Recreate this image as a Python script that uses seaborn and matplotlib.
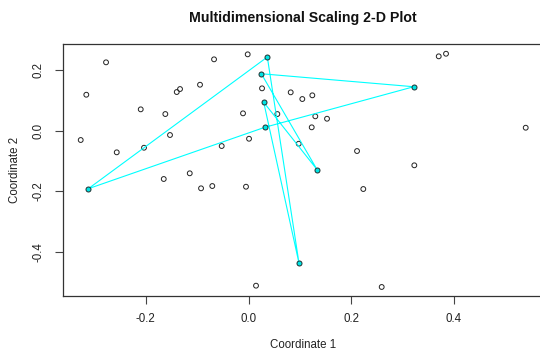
import numpy as np
import pandas as pd
import matplotlib
matplotlib.use("Agg")
import matplotlib.pyplot as plt
import seaborn as sns

# --- data ---
other_x = [-0.2773, -0.3157, -0.3266, -0.2565, -0.2034, -0.2098, -0.1619, -0.1528,
           -0.1397, -0.1333, -0.0944, -0.0671, -0.0016, -0.0107, 0.0010, -0.0522,
           0.0263, 0.0821, 0.0561, 0.1047, 0.1242, 0.1300, 0.1528, 0.1230,
           0.0977, 0.2112, 0.3227, 0.3702, 0.3844, 0.5395, -0.1650, -0.1144,
           -0.0924, -0.0705, -0.0049, 0.0146, 0.2234, 0.2592]
other_y = [0.2256, 0.1186, -0.0310, -0.0717, -0.0565, 0.0703, 0.0548, -0.0145,
           0.1275, 0.1374, 0.1516, 0.2355, 0.2520, 0.0571, -0.0268, -0.0509,
           0.1397, 0.1265, 0.0548, 0.1044, 0.1166, 0.0472, 0.0393, 0.0109,
           -0.0433, -0.0674, -0.1146, 0.2454, 0.2540, 0.0096, -0.1598, -0.1410,
           -0.1906, -0.1830, -0.1853, -0.5122, -0.1929, -0.5165]

# highlighted points, in path order (closed polygon)
hl_x = [-0.3118, 0.0315, 0.3215, 0.0249, 0.1333, 0.0296, 0.0983, 0.0366]
hl_y = [-0.1919, 0.0109, 0.1450, 0.1879, -0.1285, 0.0935, -0.4382, 0.2431]

title = "Multidimensional Scaling 2-D Plot"
xlabel = "Coordinate 1"
ylabel = "Coordinate 2"
xticks = [-0.2, 0.0, 0.2, 0.4]
yticks = [-0.4, -0.2, 0.0, 0.2]

sns.set_style("white")
plt.rcParams["font.family"] = ["Liberation Sans", "DejaVu Sans"]

fig = plt.figure(figsize=(5.4, 3.53), dpi=100)
ax = fig.add_axes([0.1165, 0.1606, 0.8900, 0.7136])

df_other = pd.DataFrame({"x": other_x, "y": other_y})
df_hl = pd.DataFrame({"x": hl_x, "y": hl_y})
df_path = pd.concat([df_hl, df_hl.iloc[[0]]], ignore_index=True)

sns.scatterplot(data=df_other, x="x", y="y", ax=ax, s=12, facecolor="none",
                edgecolor="#222222", linewidth=0.7, zorder=2)
sns.lineplot(data=df_path, x="x", y="y", ax=ax, sort=False, estimator=None,
             color="#00FFFF", linewidth=0.8, zorder=3)
sns.scatterplot(data=df_hl, x="x", y="y", ax=ax, s=13, color="#00E5E5",
                edgecolor="#1f2f2f", linewidth=0.7, zorder=4)

allx = np.array(other_x + hl_x)
ally = np.array(other_y + hl_y)
xr = allx.max() - allx.min()
yr = ally.max() - ally.min()
ax.set_xlim(allx.min() - 0.04 * xr, allx.max() + 0.04 * xr)
ax.set_ylim(ally.min() - 0.04 * yr, ally.max() + 0.04 * yr)

ax.set_xticks(xticks)
ax.set_xticklabels([f"{t:.1f}" for t in xticks])
ax.set_yticks(yticks)
ax.set_yticklabels([f"{t:.1f}" for t in yticks], rotation=90, va="center")

for s in ax.spines.values():
    s.set_color("#333333")
    s.set_linewidth(0.9)

ax.tick_params(axis="both", which="major", direction="out", length=5.5, width=0.8,
               color="#444444", labelsize=8.3, labelcolor="#222222",
               bottom=True, left=True)
ax.tick_params(axis="x", pad=6.5)
ax.tick_params(axis="y", pad=7.5)

ax.set_title(title, fontsize=10.2, fontweight="bold", pad=16, color="#111111")
ax.set_xlabel(xlabel, fontsize=8.3, color="#222222", va="center")
ax.set_ylabel(ylabel, fontsize=8.3, color="#222222", va="center")
ax.xaxis.set_label_coords(0.5, -0.193)
ax.yaxis.set_label_coords(-0.0997, 0.5)
ax.grid(False)

fig.savefig("out.png", dpi=100)
